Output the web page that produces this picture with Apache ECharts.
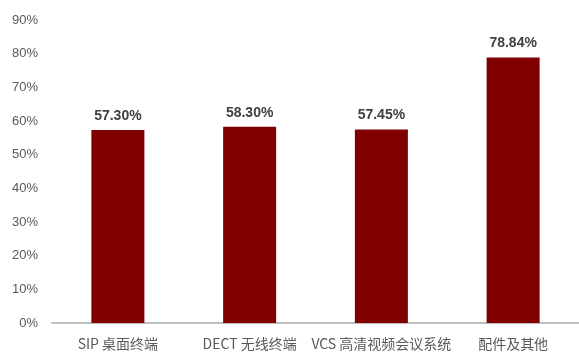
<!DOCTYPE html>
<html><head><meta charset="utf-8">
<script src="https://cdn.jsdelivr.net/npm/echarts@6/dist/echarts.min.js"></script>
<style>html,body{margin:0;padding:0;background:#fff}#c{width:579px;height:356px}</style>
</head><body><div id="c"></div>
<script>
const categories = ['SIP 桌面终端', 'DECT 无线终端', 'VCS 高清视频会议系统', '配件及其他'];
const values = [57.30, 58.30, 57.45, 78.84];
const yTicks = [0, 10, 20, 30, 40, 50, 60, 70, 80, 90];

const chart = echarts.init(document.getElementById('c'), null, {renderer: 'canvas'});
chart.setOption({
  animation: false,
  grid: {left: 52, top: 20, width: 530, height: 303, containLabel: false},
  xAxis: {
    type: 'category', data: categories,
    axisLine: {lineStyle: {color: '#bfbfbf', width: 2}},
    axisTick: {show: false},
    axisLabel: {color: '#595959', fontSize: 14, margin: 14, interval: 0, fontFamily: 'Noto Sans CJK SC'}
  },
  yAxis: {
    type: 'value', min: yTicks[0], max: yTicks[yTicks.length - 1], interval: 10,
    axisLine: {show: false}, axisTick: {show: false}, splitLine: {show: false},
    axisLabel: {color: '#595959', fontSize: 13, margin: 14, formatter: v => v + '%', fontFamily: 'Liberation Sans'}
  },
  series: [{
    type: 'bar', data: values, barWidth: 53,
    itemStyle: {color: '#800000'},
    label: {show: true, position: 'top', distance: 7, color: '#404040', fontSize: 14, fontWeight: 'bold',
      fontFamily: 'Liberation Sans', formatter: p => p.value.toFixed(2) + '%'}
  }]
});
</script></body></html>
